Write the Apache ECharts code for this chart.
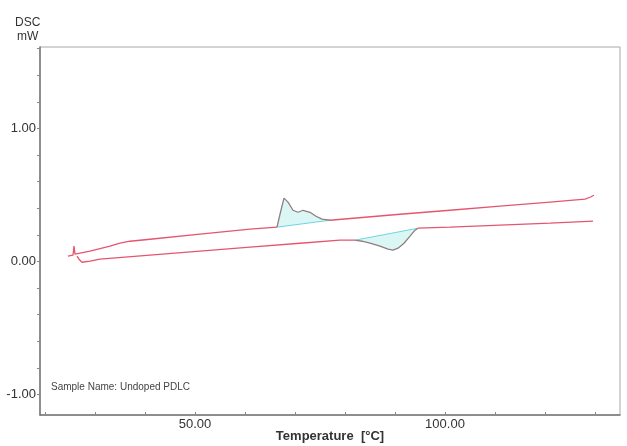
<!DOCTYPE html>
<html><head><meta charset="utf-8">
<script src="https://cdn.jsdelivr.net/npm/echarts@6/dist/echarts.min.js"></script>
<style>html,body{margin:0;padding:0;background:#fff}#c{width:627px;height:446px}</style>
</head><body><div id="c"></div>
<script>
// Heating run (upper curve): [temperature °C, DSC mW]
var heatLeft = [[24.6,0.04],[25.6,0.047],[25.8,0.115],[26.0,0.055],[29.0,0.077],[33.0,0.115],[35.0,0.137],[37.0,0.152],[41.0,0.167],[51.0,0.205],[61.0,0.243],[66.4,0.258]];
var heatPeak = [[66.4,0.258],[67.0,0.355],[67.8,0.476],[68.6,0.446],[69.6,0.385],[70.6,0.37],[71.6,0.385],[73.0,0.37],[74.2,0.34],[75.4,0.318],[77.0,0.31]];
var heatRight = [[77.0,0.31],[91.0,0.355],[101.0,0.385],[111.0,0.416],[121.0,0.446],[128.0,0.468],[129.0,0.483],[129.8,0.498]];
// Cooling run (lower curve)
var coolLeft = [[26.4,0.04],[26.8,0.017],[27.4,-0.006],[29.0,0.002],[31.0,0.017],[41.0,0.047],[51.0,0.077],[61.0,0.107],[71.0,0.137],[79.0,0.16],[82.0,0.16]];
var coolPeak = [[82.0,0.16],[83.4,0.152],[85.0,0.137],[87.0,0.115],[88.6,0.092],[89.6,0.085],[90.6,0.1],[91.8,0.137],[93.0,0.19],[94.0,0.235],[94.6,0.25]];
var coolRight = [[94.6,0.25],[101.0,0.258],[111.0,0.273],[121.0,0.288],[129.6,0.303]];
// Axis ticks
var xLabels = [50, 100];
var xTicks = [20,30,40,50,60,70,80,90,100,110,120,130];
var yLabels = [-1, 0, 1];
var yTicks = [-1,-0.8,-0.6,-0.4,-0.2,0,0.2,0.4,0.6,0.8,1,1.2,1.4,1.6];
var sampleName = 'Sample Name: Undoped PDLC';

var RED = '#e4566e', PEAK = '#8f7f80', CYAN = '#70d4de', FILL = 'rgba(200,243,240,0.65)';
var FONT = 'Liberation Sans, Arial, sans-serif';

function fillSeries(pts) {
  return {
    type: 'custom', silent: true, z: 1,
    data: [[pts[0][0], pts[0][1]]],
    renderItem: function (params, api) {
      var poly = pts.map(function (p) { return api.coord(p); });
      return { type: 'polygon', shape: { points: poly }, style: { fill: FILL, stroke: null } };
    }
  };
}
function line(data, color, w, z) {
  return { type: 'line', data: data, showSymbol: false, symbol: 'none', silent: true, z: z || 3,
    lineStyle: { color: color, width: w }, animation: false };
}
function baseline(pts) {
  return [pts[0], pts[pts.length - 1]];
}

var chart = echarts.init(document.getElementById('c'), null, { renderer: 'canvas' });
chart.setOption({
  animation: false,
  backgroundColor: '#fff',
  grid: { left: 40, right: 7, top: 47, bottom: 31, show: true, borderColor: '#a8a8a8', borderWidth: 1,
    outerBoundsMode: 'none', containLabel: false },
  xAxis: {
    type: 'value', min: 19, max: 135,
    name: 'Temperature  [°C]', nameLocation: 'middle', nameGap: 15, nameMoveOverlap: false,
    nameTextStyle: { fontFamily: FONT, fontSize: 13, fontWeight: 'bold', color: '#333', verticalAlign: 'top' },
    axisLine: { show: true, onZero: false, lineStyle: { color: '#777', width: 1.5 } },
    axisTick: { show: true, inside: true, length: 3, customValues: xTicks, lineStyle: { color: '#888' } },
    axisLabel: { customValues: xLabels, formatter: function (v) { return v.toFixed(2); }, fontFamily: FONT, fontSize: 13, color: '#333', margin: 3 },
    splitLine: { show: false }
  },
  yAxis: {
    type: 'value', min: -1.155, max: 1.613,
    axisLine: { show: true, onZero: false, lineStyle: { color: '#777', width: 1.5 } },
    axisTick: { show: true, length: 3, customValues: yTicks, lineStyle: { color: '#888' } },
    axisLabel: { customValues: yLabels, formatter: function (v) { return v.toFixed(2); }, fontFamily: FONT, fontSize: 13, color: '#333', margin: 4 },
    splitLine: { show: false }
  },
  graphic: [
    { type: 'text', left: 15, top: 17, style: { text: 'DSC', fontFamily: FONT, fontSize: 12, fill: '#333' } },
    { type: 'text', left: 17, top: 31, style: { text: 'mW', fontFamily: FONT, fontSize: 12, fill: '#333' } },
    { type: 'text', left: 51, top: 382, style: { text: sampleName, fontFamily: FONT, fontSize: 10, fill: '#444' } }
  ],
  series: [
    fillSeries(heatPeak),
    fillSeries(coolPeak),
    line(baseline(heatPeak), CYAN, 1, 2),
    line(baseline(coolPeak), CYAN, 1, 2),
    line(heatLeft, RED, 1.3),
    line(heatPeak, PEAK, 1.3),
    line(heatRight, RED, 1.3),
    line(coolLeft, RED, 1.3),
    line(coolPeak, PEAK, 1.3),
    line(coolRight, RED, 1.3)
  ]
});
</script>
</body></html>
